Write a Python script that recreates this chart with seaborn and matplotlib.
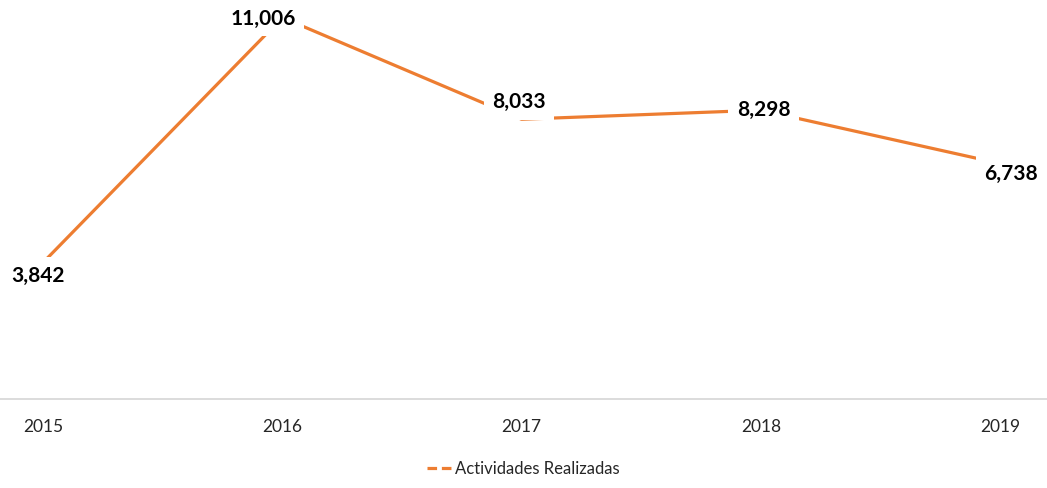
import matplotlib.pyplot as plt
import numpy as np
import pandas as pd
import seaborn as sns
from matplotlib.lines import Line2D

years = ["2015", "2016", "2017", "2018", "2019"]
actividades = [3842, 11006, 8033, 8298, 6738]

sns.set_style("white")
plt.rcParams['font.family'] = ['Lato', 'DejaVu Sans']

orange = "#ED7D31"
df = pd.DataFrame({"Año": np.arange(len(years)), "Actividades": actividades})

fig = plt.figure(figsize=(10.47, 4.89), dpi=100)
ax = fig.add_axes([0, 0.182, 1, 0.818])
sns.lineplot(data=df, x="Año", y="Actividades", color=orange, linewidth=2.3, ax=ax)

# label offsets (points) relative to each data point
offsets = [(-4, -9), (-14, 0), (-2, 13), (2, 1), (8, -7)]
for i, v in enumerate(actividades):
    ax.annotate(f"{v:,}", (i, v), xytext=offsets[i], textcoords="offset points",
                ha="center", va="center", fontsize=15, fontweight="bold", color="black",
                bbox=dict(boxstyle="square,pad=0.4", fc="white", ec="none"), zorder=5)

ax.set_xlim(-0.18, 4.196)
ax.set_ylim(-150, 11550)
ax.set_xticks(range(len(years)))
ax.set_xticklabels(years, fontsize=12.5)
ax.set_yticks([])
ax.set_xlabel("")
ax.set_ylabel("")
for s in ["top", "left", "right"]:
    ax.spines[s].set_visible(False)
ax.spines["bottom"].set_color("#D9D9D9")
ax.spines["bottom"].set_linewidth(1.3)
ax.tick_params(axis="x", length=0, pad=14)

handle = Line2D([], [], color=orange, linewidth=2.3, linestyle=(0, (3, 1.5)))
fig.legend([handle], ["Actividades Realizadas"], loc="center", bbox_to_anchor=(0.5, 0.04),
           frameon=False, fontsize=12, handlelength=1.5, handletextpad=0.2)

fig.savefig("out.png", dpi=100)
